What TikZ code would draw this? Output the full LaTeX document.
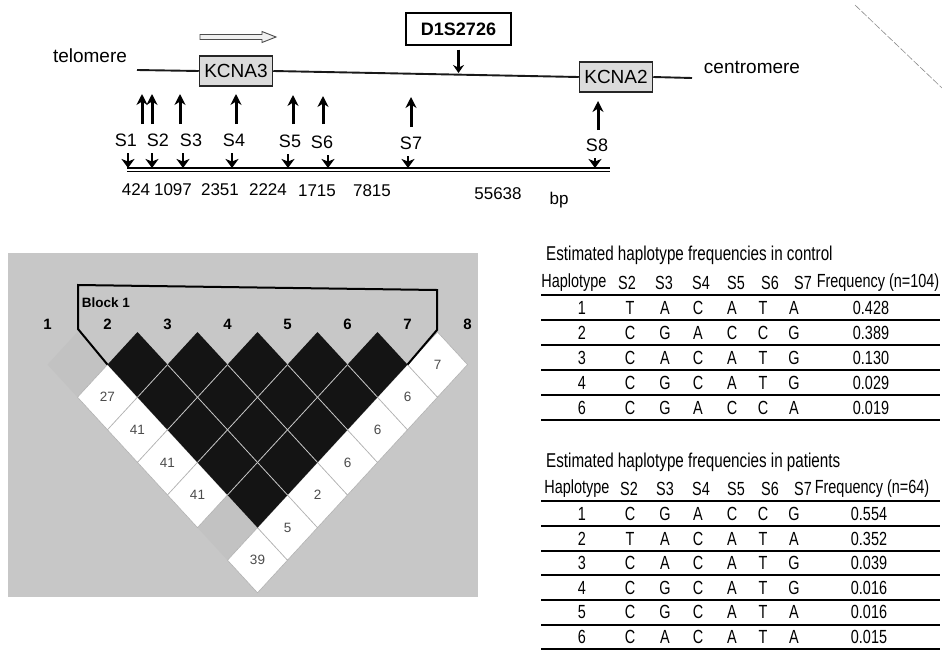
\documentclass[tikz,border=0pt]{standalone}
\usepackage{fontspec}
\setmainfont{Liberation Sans}
\newfontfamily\narrowfam[FakeStretch=0.76]{Liberation Sans}
\usetikzlibrary{arrows.meta}
\newcommand\fsz[1]{\fontsize{#1}{#1}\selectfont}
\tikzset{
 lbl/.style={inner sep=0pt},
 gene/.style={draw=black!85, line width=1.5pt, fill=black!14, inner sep=0pt, minimum width=73pt, minimum height=30pt, font=\fsz{19}},
 chrom/.style={line width=1.9pt, black!90},
 uparr/.style={line width=3pt, -{Stealth[length=11pt,width=11pt]}},
 dnhead/.style={line width=2.2pt, -{Stealth[length=9pt,width=13pt,inset=2.5pt]}},
 slab/.style={inner sep=0pt, font=\fsz{18}},
 dist/.style={inner sep=0pt, font=\fsz{17}},
 ldwhite/.style={fill=white, draw=black!30, line width=0.6pt},
 ldgray/.style={fill=black!24},
 ldblack/.style={fill=black!92},
 ldsep/.style={draw=white!78!black, line width=0.8pt},
 ldnum/.style={inner sep=0pt, font=\fsz{13.5}, text=black!70},
 mk/.style={inner sep=0pt, font=\bfseries\fsz{15}},
 tt/.style={inner sep=0pt, font=\narrowfam\fsz{20}, anchor=west},
 tb/.style={inner sep=0pt, font=\narrowfam\fsz{19}},
 tline/.style={line width=2pt},
}
\begin{document}
\begin{tikzpicture}[x=1pt,y=-1pt]
\useasboundingbox (0,0) rectangle (942,656);
\fill[white] (0,0) rectangle (942,656);

% ---------- chromosome map ----------
\node[lbl, font=\fsz{19}] (telo) at (90,56) {telomere};
\node[lbl, font=\fsz{19}] (centro) at (752,67) {centromere};
\node[gene] (kcna3) at (236,71) {KCNA3};
\node[gene] (kcna2) at (616,77) {KCNA2};
\coordinate (lstart) at (137,70);
\coordinate (lend) at (692,78);
\draw[chrom] (lstart) -- (kcna3.west);
\draw[chrom] (kcna3.east) -- (kcna2.west);
\draw[chrom] (kcna2.east) -- (lend);

% hollow direction arrow
\draw[draw=black!70, fill=black!6, line width=0.9pt]
  (200,34.5) -- (262,34.5) -- (262,31.5) -- (276,37) -- (262,42.5) -- (262,39.5) -- (200,39.5) -- cycle;

% D1S2726 marker
\node[draw, line width=1.4pt, fill=white, minimum width=105pt, minimum height=32pt,
      inner sep=0pt, font=\bfseries\fsz{18}] (d1s) at (458.5,29) {D1S2726};
\coordinate (d1hit) at (458.5,73);
\draw[line width=3.2pt, -{Stealth[length=8pt,width=11pt]}, shorten <=4pt] (d1s.south) -- (d1hit);

% SNP up arrows
\foreach \n/\x/\yt/\yb in {1/142/94/124, 2/152/94/124, 3/180/94/124, 4/236/94/124,
                             5/293/95/124, 6/323/96/124, 7/411/97/127, 8/598/101/130}{
  \coordinate (ub\n) at (\x,\yb);
  \coordinate (ut\n) at (\x,\yt);
  \draw[uparr] (ub\n) -- (ut\n);
}
% SNP labels
\foreach \n/\x/\y in {1/126/140, 2/158/140, 3/191/140, 4/234/140, 5/290/141,
                      6/322/142, 7/411/143, 8/597/145}{
  \node[slab] (s\n) at (\x,\y) {S\n};
}
% double line and small arrowheads
\coordinate (dlA) at (127,168);
\coordinate (dlB) at (610,168);
\coordinate (dlC) at (127,171.5);
\coordinate (dlD) at (610,171.5);
\draw[line width=1.9pt] (dlA) -- (dlB);
\draw[line width=1.1pt] (dlC) -- (dlD);
\foreach \n/\x/\yt in {1/128/153, 2/152/153, 3/183/153, 4/232/153, 5/288/154, 6/328/155, 7/408/156, 8/595/158}{
  \coordinate (dt\n) at (\x,\yt);
  \coordinate (db\n) at (\x,168);
  \draw[dnhead] (dt\n) -- (db\n);
}
% distances
\node[dist] (d1) at (136,190) {424};
\node[dist] (d2) at (173,190) {1097};
\node[dist] (d3) at (220,190) {2351};
\node[dist] (d4) at (268,190) {2224};
\node[dist] (d5) at (317,191) {1715};
\node[dist] (d6) at (372,191) {7815};
\node[dist] (d7) at (498,194) {55638};
\node[dist] (d8) at (559,200) {bp};

% scan artefact
\coordinate (art1) at (855,5);
\coordinate (art2) at (942,88);
\draw[black!45, line width=0.6pt, dash pattern=on 7pt off 2pt] (art1) -- (art2);

% ---------- LD plot ----------
\fill[black!22] (8,253) rectangle (478,597);

\foreach \i/\j in {1/2,1/7}{
  \pgfmathsetmacro\cx{47.5+30*(\i+\j-2)}
  \pgfmathsetmacro\cy{332+32.6*(\j-\i)}
  \fill[ldgray] (\cx,\cy-32.6) -- (\cx+30,\cy) -- (\cx,\cy+32.6) -- (\cx-30,\cy) -- cycle;
}
\foreach \i/\j/\v in {1/3/27,1/4/41,1/5/41,1/6/41,1/8/39,2/8/5,3/8/2,4/8/6,5/8/6,6/8/6,7/8/7}{
  \pgfmathsetmacro\cx{47.5+30*(\i+\j-2)}
  \pgfmathsetmacro\cy{332+32.6*(\j-\i)}
  \filldraw[ldwhite] (\cx,\cy-32.6) -- (\cx+30,\cy) -- (\cx,\cy+32.6) -- (\cx-30,\cy) -- cycle;
  \node[ldnum] (v\i\j) at (\cx,\cy) {\v};
}
\foreach \i in {2,...,6}{
  \pgfmathtruncatemacro\jst{\i+1}
  \foreach \j in {\jst,...,7}{
    \pgfmathsetmacro\cx{47.5+30*(\i+\j-2)}
    \pgfmathsetmacro\cy{332+32.6*(\j-\i)}
    \fill[ldblack] (\cx,\cy-32.6) -- (\cx+30,\cy) -- (\cx,\cy+32.6) -- (\cx-30,\cy) -- cycle;
  }
}
\foreach \i in {2,...,6}{
  \pgfmathtruncatemacro\jst{\i+1}
  \foreach \j in {\jst,...,7}{
    \pgfmathsetmacro\cx{47.5+30*(\i+\j-2)}
    \pgfmathsetmacro\cy{332+32.6*(\j-\i)}
    \ifnum\i>2 \draw[ldsep] (\cx-30,\cy) -- (\cx,\cy+32.6); \fi
    \ifnum\j<7 \draw[ldsep] (\cx,\cy+32.6) -- (\cx+30,\cy); \fi
  }
}
% block outline
\draw[line width=2pt, line join=miter] (107.5,364.6) -- (78,329) -- (78,285) -- (437,290) -- (437,330) -- (407.5,364.6);
\node[inner sep=0pt, font=\bfseries\fsz{13.5}] (blk) at (106,303) {Block 1};
\foreach \k in {1,...,8}{
  \node[mk] (mk\k) at ({47.5+60*(\k-1)},324) {\k};
}

% ---------- tables ----------
% control
\node[tt] (ctitle) at (546,255) {Estimated haplotype frequencies in control};
\node[tb] (chh) at (574,283) {Haplotype};
\foreach \n/\x in {2/627,3/664,4/701,5/736,6/770,7/803}{
  \node[tb] (chs\n) at (\x,283) {S\n};
}
\node[tb] (chf) at (878,283) {Frequency (n=104)};
\foreach \y in {295,320,345,370,395,420}{
  \draw[tline] (541,\y) -- (940,\y);
}
\foreach \h/\a/\b/\c/\d/\e/\f/\fr [count=\k] in
  {1/T/A/C/A/T/A/0.428, 2/C/G/A/C/C/G/0.389, 3/C/A/C/A/T/G/0.130,
   4/C/G/C/A/T/G/0.029, 6/C/G/A/C/C/A/0.019}{
  \pgfmathsetmacro\yy{308+25*(\k-1)}
  \node[tb] (cr\k h) at (582,\yy) {\h};
  \node[tb] (cr\k a) at (630,\yy) {\a};
  \node[tb] (cr\k b) at (665,\yy) {\b};
  \node[tb] (cr\k c) at (698,\yy) {\c};
  \node[tb] (cr\k d) at (732,\yy) {\d};
  \node[tb] (cr\k e) at (763,\yy) {\e};
  \node[tb] (cr\k f) at (794,\yy) {\f};
  \node[tb] (cr\k r) at (871,\yy) {\fr};
}
% patients
\node[tt] (ptitle) at (546,462) {Estimated haplotype frequencies in patients};
\node[tb] (phh) at (577,489) {Haplotype};
\foreach \n/\x in {2/629,3/665,4/701,5/736,6/770,7/803}{
  \node[tb] (phs\n) at (\x,489) {S\n};
}
\node[tb] (phf) at (872,489) {Frequency (n=64)};
\foreach \y in {501,526,551,575,600,625,649}{
  \draw[tline] (541,\y) -- (940,\y);
}
\foreach \h/\a/\b/\c/\d/\e/\f/\fr [count=\k] in
  {1/C/G/A/C/C/G/0.554, 2/T/A/C/A/T/A/0.352, 3/C/A/C/A/T/G/0.039,
   4/C/G/C/A/T/G/0.016, 5/C/G/C/A/T/A/0.016, 6/C/A/C/A/T/A/0.015}{
  \pgfmathsetmacro\yy{514+24.6*(\k-1)}
  \node[tb] (pr\k h) at (582,\yy) {\h};
  \node[tb] (pr\k a) at (630,\yy) {\a};
  \node[tb] (pr\k b) at (665,\yy) {\b};
  \node[tb] (pr\k c) at (698,\yy) {\c};
  \node[tb] (pr\k d) at (732,\yy) {\d};
  \node[tb] (pr\k e) at (763,\yy) {\e};
  \node[tb] (pr\k f) at (794,\yy) {\f};
  \node[tb] (pr\k r) at (869,\yy) {\fr};
}
\end{tikzpicture}
\end{document}
